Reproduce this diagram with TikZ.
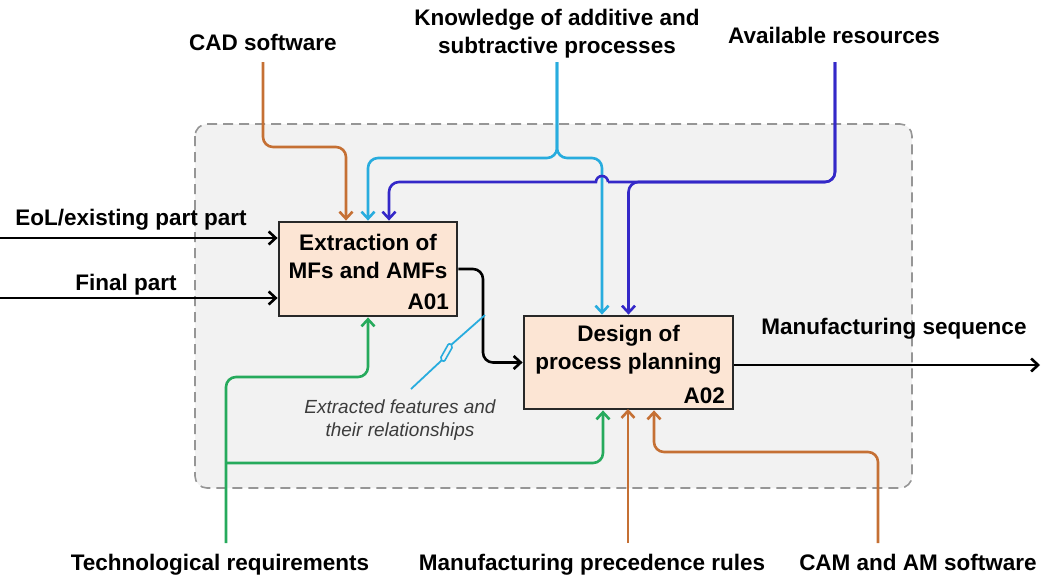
\documentclass[tikz,border=0pt]{standalone}
\usepackage{fontspec}
\setmainfont{Liberation Sans}
\usetikzlibrary{arrows.meta}
\definecolor{cadc}{RGB}{197,112,52}
\definecolor{knowc}{RGB}{40,172,222}
\definecolor{resc}{RGB}{52,40,200}
\definecolor{techc}{RGB}{38,170,92}
\definecolor{boxfill}{RGB}{252,229,212}
\definecolor{boxline}{RGB}{40,40,40}
\definecolor{bgfill}{RGB}{242,242,242}
\definecolor{bgline}{RGB}{150,150,150}
\definecolor{notec}{RGB}{60,60,60}
\tikzset{
  flow/.style={line width=2.6pt,rounded corners=10pt,
    -{Straight Barb[length=7pt,width=13pt]}},
  lbl/.style={font=\fontsize{22.5}{28}\selectfont\bfseries,inner sep=0pt,anchor=base},
  activity/.style={draw=boxline,fill=boxfill,line width=2.8pt,inner sep=0pt},
  acttxt/.style={font=\fontsize{22.5}{28}\selectfont\bfseries,align=center,inner sep=0pt},
  actid/.style={font=\fontsize{22.5}{28}\selectfont\bfseries,inner sep=0pt,anchor=base east},
}
\begin{document}
\begin{tikzpicture}[x=1pt,y=-1pt]
\useasboundingbox (0,0) rectangle (1041,574);
% context frame
\draw[bgline,fill=bgfill,line width=1.6pt,dash pattern=on 10pt off 6pt,rounded corners=12pt]
  (195,124) rectangle (912,488);
% activities
\node[activity,minimum width=178pt,minimum height=94pt] (a01) at (368,269) {};
\node[acttxt] (a01txt) at (368,256) {Extraction of\\MFs and AMFs};
\node[actid] (a01id) at (449,309) {A01};
\node[activity,minimum width=209pt,minimum height=93pt] (a02) at (628.5,362.5) {};
\node[acttxt] (a02txt) at (628.5,350) {Design of\\process planning};
\node[actid] (a02id) at (725,403) {A02};
% labels
\node[lbl] (cad) at (263,50) {CAD software};
\node[lbl,anchor=center,align=center] (know) at (557,34) {Knowledge of additive and\\subtractive processes};
\node[lbl] (avail) at (834,43) {Available resources};
\node[lbl] (eol) at (131,225) {EoL/existing part part};
\node[lbl] (final) at (126,290) {Final part};
\node[lbl] (seq) at (894,334) {Manufacturing sequence};
\node[lbl] (tech) at (220,570) {Technological requirements};
\node[lbl] (rules) at (592,570) {Manufacturing precedence rules};
\node[lbl] (camam) at (918,570) {CAM and AM software};
\node[font=\fontsize{19}{23}\selectfont\itshape,text=notec,align=center,inner sep=0pt]
  (feat) at (400,420) {Extracted features and\\their relationships};
\coordinate (eolin) at (0,238);
\coordinate (finalin) at (0,298);
\coordinate (seqout) at (1040,365);
% controls
\draw[flow,cadc] (263,62) -- (263,147) -| ([xshift=-22pt]a01.north);
\draw[flow,knowc] (557,62) -- (557,158) -| (a01.north);
\draw[flow,knowc] (557,62) -- (557,158) -| ([xshift=-26.5pt]a02.north);
\draw[resc,line width=2.6pt,rounded corners=10pt] (835,62) -- (835,182) -- (608,182);
\draw[flow,resc,sharp corners] (608,182) arc[start angle=0,end angle=180,radius=6pt]
  -- (560,182) [rounded corners=10pt] -- (389,182) -- ([xshift=21pt]a01.north);
\draw[flow,resc] (835,62) -- (835,182) -| (a02.north);
% inputs and output
\draw[flow,black] (eolin) -- (eolin -| a01.west);
\draw[flow,black] (finalin) -- (finalin -| a01.west);
\draw[flow,black] (a01.east) -- (483,269) |- (a02.west);
\draw[flow,black] (seqout -| a02.east) -- (seqout);
% mechanisms
\draw[flow,techc] (226,543) -- (226,377) -| (a01.south);
\draw[flow,techc,rounded corners=0pt] (226,463) -- (593,463)
  [rounded corners=10pt] -- (603,463) -- ([xshift=-25.5pt]a02.south);
\draw[flow,cadc] (628,543) -- (628,409);
\draw[flow,cadc] (878,543) -- (878,452) -| ([xshift=25.5pt]a02.south);
% squiggle
\draw[knowc,line width=1.8pt] (485,315) -- (451,345);
\draw[knowc,line width=1.6pt,rounded corners=2pt] (449,343) -- (453,346) -- (444,362) -- (440,359) -- cycle;
\draw[knowc,line width=1.8pt] (442,360) -- (411,389);
\end{tikzpicture}
\end{document}
